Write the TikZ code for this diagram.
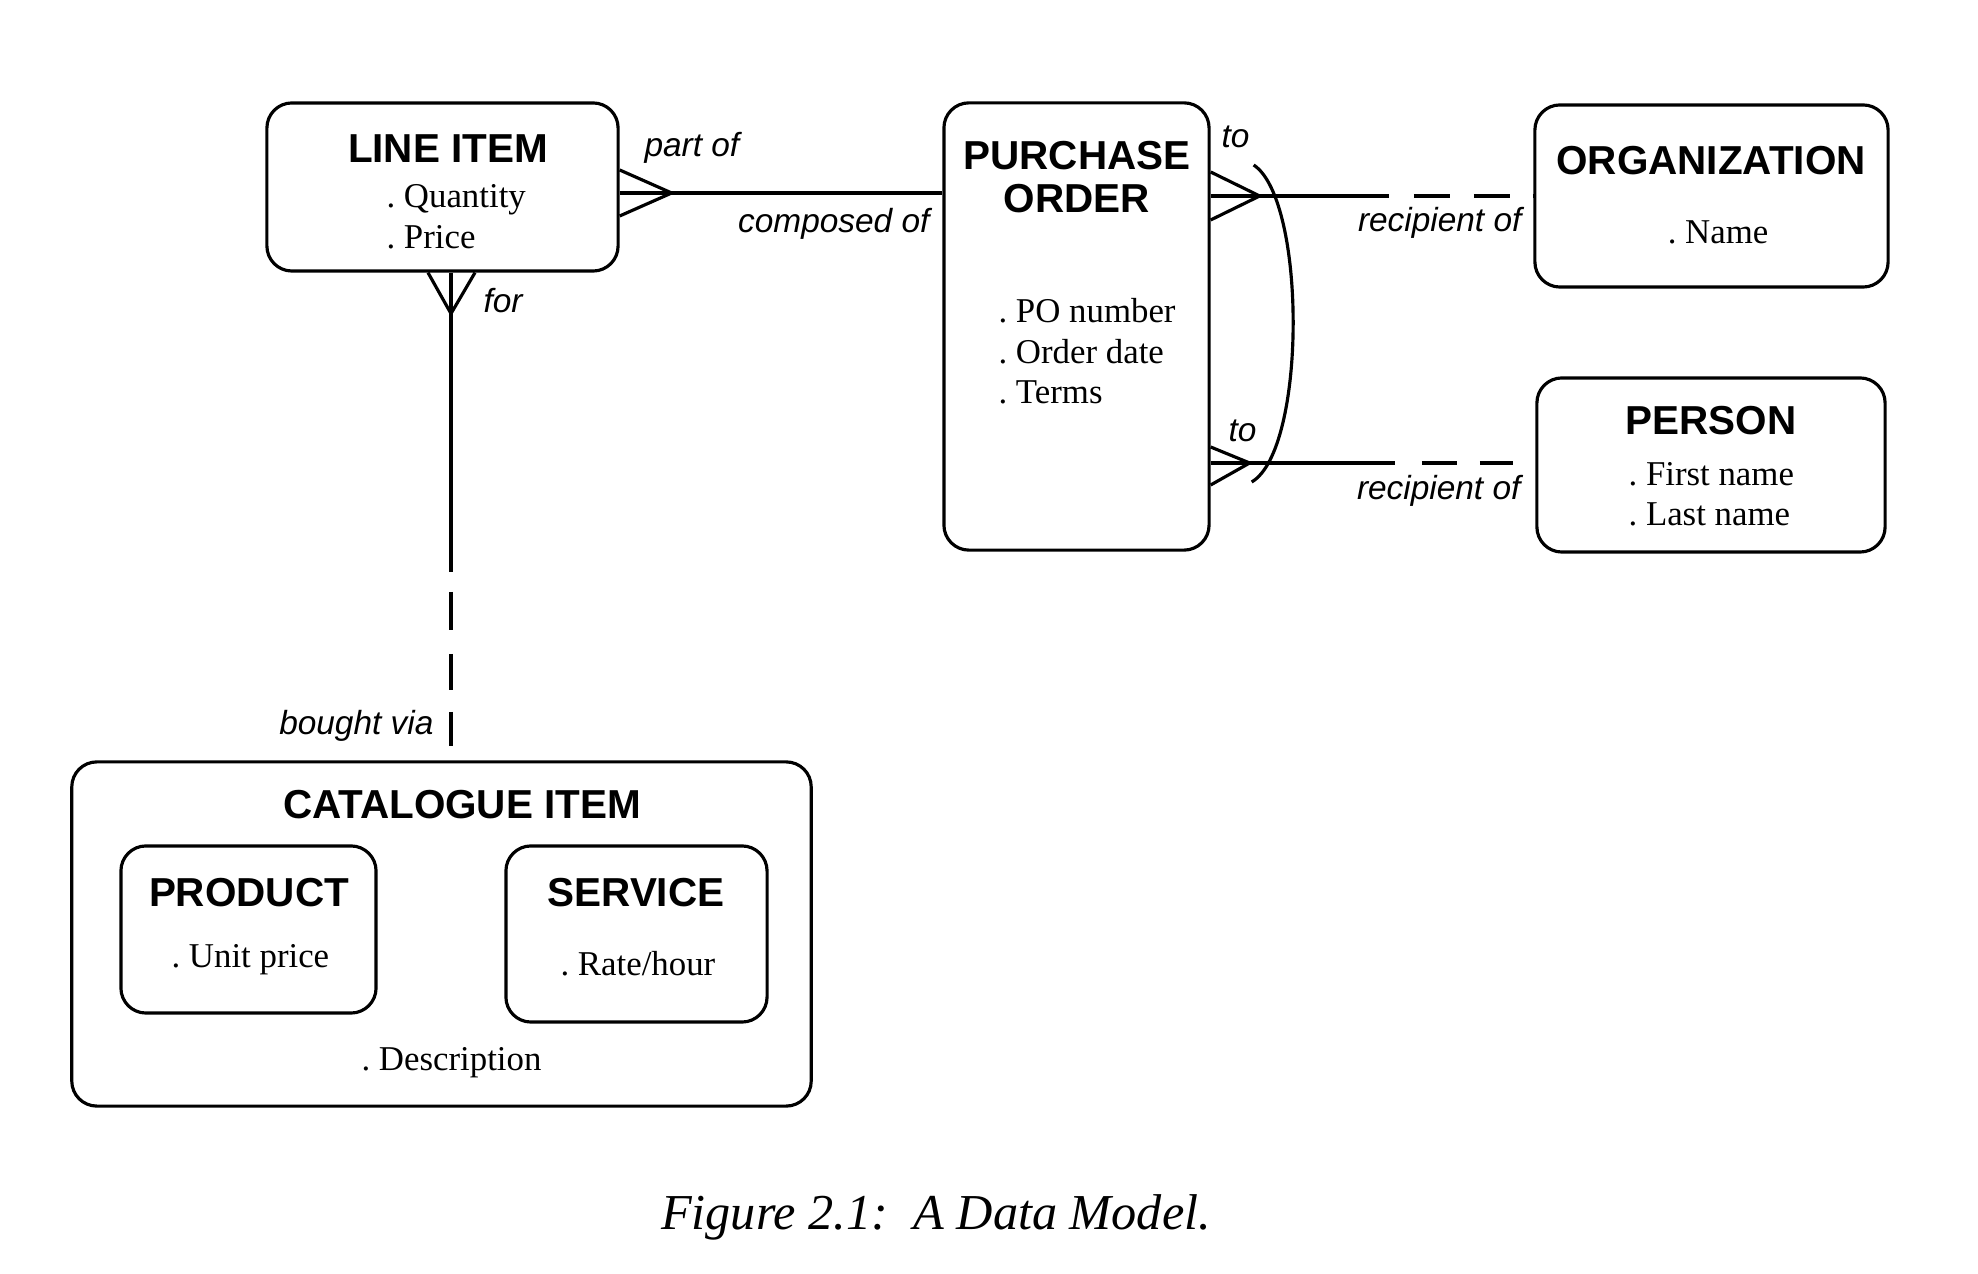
\documentclass[tikz,border=0pt]{standalone}
\usepackage{fontspec}
\setmainfont{Liberation Serif}
\setsansfont{Liberation Sans}
\usetikzlibrary{calc}
\newcommand{\entfont}{\sffamily\bfseries\fontsize{11.5}{13}\selectfont}
\newcommand{\fieldfont}{\rmfamily\fontsize{9.9}{12}\selectfont}
\newcommand{\rolefont}{\sffamily\itshape\fontsize{9.5}{11}\selectfont}
\frenchspacing

\begin{document}
\begin{tikzpicture}[x=0.01cm,y=-0.01cm,line width=0.9pt]
       \tikzstyle{entity} = [rectangle, draw, rounded corners=0.25cm, inner sep=0pt];
       \tikzstyle{heading} = [font=\entfont, inner sep=0pt, anchor=base];
       \tikzstyle{field} = [font=\fieldfont, inner sep=0pt, anchor=base west];
       \tikzstyle{rolew} = [font=\rolefont, inner sep=0pt, anchor=base west];
       \tikzstyle{rolee} = [font=\rolefont, inner sep=0pt, anchor=base east];
       \useasboundingbox (0,0) rectangle (1978,1274);

       \node[entity, minimum width=3.51cm, minimum height=1.68cm] (lineitem) at (442.5,187) {};
       \node[entity, minimum width=2.65cm, minimum height=4.47cm] (purchase) at (1076.5,326.5) {};
       \node[entity, minimum width=3.53cm, minimum height=1.82cm] (organization) at (1711.5,196) {};
       \node[entity, minimum width=3.48cm, minimum height=1.74cm] (person) at (1711,465) {};
       \node[entity, minimum width=7.39cm, minimum height=3.44cm] (catalogue) at (441.5,934) {};
       \node[entity, minimum width=2.55cm, minimum height=1.67cm] (product) at (248.5,929.5) {};
       \node[entity, minimum width=2.61cm, minimum height=1.76cm] (service) at (636.5,934) {};

       \node[heading] (lineitemtitle) at (448,163) {LINE ITEM};
       \node[field] (quantity) at (385,208) {. Quantity};
       \node[field] (price) at (385,249) {. Price};
       \node[heading] (purchasetitle) at (1077,170) {PURCHASE};
       \node[heading] (ordertitle) at (1077,213) {ORDER};
       \node[field] (ponumber) at (997,323) {. PO number};
       \node[field] (orderdate) at (997,364) {. Order date};
       \node[field] (terms) at (997,404) {. Terms};
       \node[heading] (orgtitle) at (1711,175) {ORGANIZATION};
       \node[field, anchor=base] (name) at (1718,244) {. Name};
       \node[heading] (persontitle) at (1711,435) {PERSON};
       \node[field] (firstname) at (1627,486) {. First name};
       \node[field] (lastname) at (1627,526) {. Last name};
       \node[heading] (cattitle) at (462,819) {CATALOGUE ITEM};
       \node[heading] (prodtitle) at (249,907) {PRODUCT};
       \node[field] (unitprice) at (170,968) {. Unit price};
       \node[heading] (servtitle) at (636,907) {SERVICE};
       \node[field] (ratehour) at (559,976) {. Rate/hour};
       \node[field] (description) at (360,1071) {. Description};

       \node[rolew] (partof) at (643,157) {part of};
       \node[rolee] (composedof) at (931,233) {composed of};
       \node[rolew] (forrole) at (482,313) {for};
       \node[rolee] (boughtvia) at (435,735) {bought via};
       \node[rolew] (to1) at (1220,148) {to};
       \node[rolew] (to2) at (1227,442) {to};
       \node[rolee] (recipient1) at (1523,232) {recipient of};
       \node[rolee] (recipient2) at (1522,500) {recipient of};

       \node[font=\rmfamily\itshape\fontsize{14.3}{17}\selectfont, anchor=base] (caption) at (936,1230) {Figure 2.1:\ \ A Data Model.};

       % line item -- purchase order
       \draw ($(lineitem.east)+(0,-17)$) -- ($(lineitem.east)+(52,6)$) -- ($(lineitem.east)+(0,29)$);
       \draw ($(lineitem.east)+(0,6)$) -- ($(purchase.west)+(0,-133.5)$);
       % line item -- catalogue item
       \draw ($(lineitem.south)+(-14.5,0)$) -- ($(lineitem.south)+(8.5,41)$) -- ($(lineitem.south)+(32.5,0)$);
       \draw[dash pattern=on 2.99cm off 0.2cm on 0.38cm off 0.24cm on 0.36cm off 0.22cm on 0.38cm off 1cm] ($(lineitem.south)+(8.5,0)$) -- ($(catalogue.north)+(9.5,-14)$);
       % purchase order -- organization
       \draw ($(purchase.east)+(0,-154.5)$) -- ($(purchase.east)+(49,-130.5)$) -- ($(purchase.east)+(0,-106.5)$);
       \draw[dash pattern=on 1.78cm off 0.25cm on 0.36cm off 0.24cm on 0.36cm off 0.23cm on 0.36cm off 1cm] ($(purchase.east)+(0,-130.5)$) -- (organization.west);
       % purchase order -- person
       \draw ($(purchase.east)+(0,120.5)$) -- ($(purchase.east)+(39,136.5)$) -- ($(purchase.east)+(0,158.5)$);
       \draw[dash pattern=on 1.84cm off 0.27cm on 0.35cm off 0.23cm on 0.37cm off 1cm] ($(purchase.east)+(0,136.5)$) -- ($(person.west)+(-22,-2)$);
       % exclusive arc
       \draw ($(purchase.east)+(43,-161.5)$) .. controls +(53,35) and +(55,-32) .. ($(purchase.east)+(41,155.5)$);
\end{tikzpicture}
\end{document}
